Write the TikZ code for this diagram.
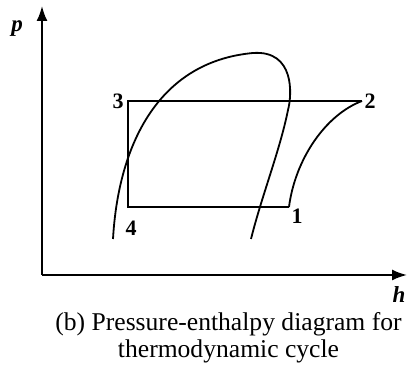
\documentclass[tikz,border=0pt]{standalone}
\usepackage{fontspec}
\setmainfont{Liberation Serif}
\usetikzlibrary{arrows.meta}

\begin{document}
\begin{tikzpicture}[
    x=0.5pt, y=-0.5pt,
    axis/.style={line width=1pt, -{Latex[length=7.5pt, width=5.5pt]}},
    cycle/.style={line width=0.9pt},
    curve/.style={line width=0.9pt},
    statelbl/.style={font=\fontsize{11}{13}\selectfont\bfseries, inner sep=1pt},
    axislbl/.style={font=\fontsize{11.5}{13}\selectfont\bfseries\itshape, inner sep=1pt}
]
    \useasboundingbox (0,0) rectangle (407,367);

    % Achsen
    \coordinate (o) at (42,275);
    \coordinate (ptop) at (42,6);
    \coordinate (hend) at (407,275);
    \draw [axis] (o) -- (ptop);
    \draw [axis] (o) -- (hend);
    \node (plbl) [axislbl] at (17,29) {p};
    \node (hlbl) [axislbl] at (399,295) {h};

    % Zustandspunkte
    \coordinate (s1) at (289,207);
    \coordinate (s2) at (362,101);
    \coordinate (s3) at (128,101);
    \coordinate (s4) at (128,207);
    \node [statelbl] at (118,101) {3};
    \node [statelbl] at (370,101) {2};
    \node [statelbl] at (297,216) {1};
    \node [statelbl] at (131,228) {4};

    % Kreisprozess
    \draw [cycle] (s1) -- (s4) -- (s3) -- (s2);
    \draw [curve] (s1) .. controls (295,160) and (325,115) .. (s2);

    % Grenzkurve
    \draw [curve] (113,239) .. controls (118,150) and (155,62) .. (253,53)
        .. controls (295,50) and (292,95) .. (288,110)
        .. controls (280,150) and (262,195) .. (251,239);

    % Bildunterschrift
    \node (cap) [font=\fontsize{12.8}{13.6}\selectfont, align=center] at (228.5,338)
        {(b) Pressure-enthalpy diagram for\\thermodynamic cycle};
\end{tikzpicture}
\end{document}
